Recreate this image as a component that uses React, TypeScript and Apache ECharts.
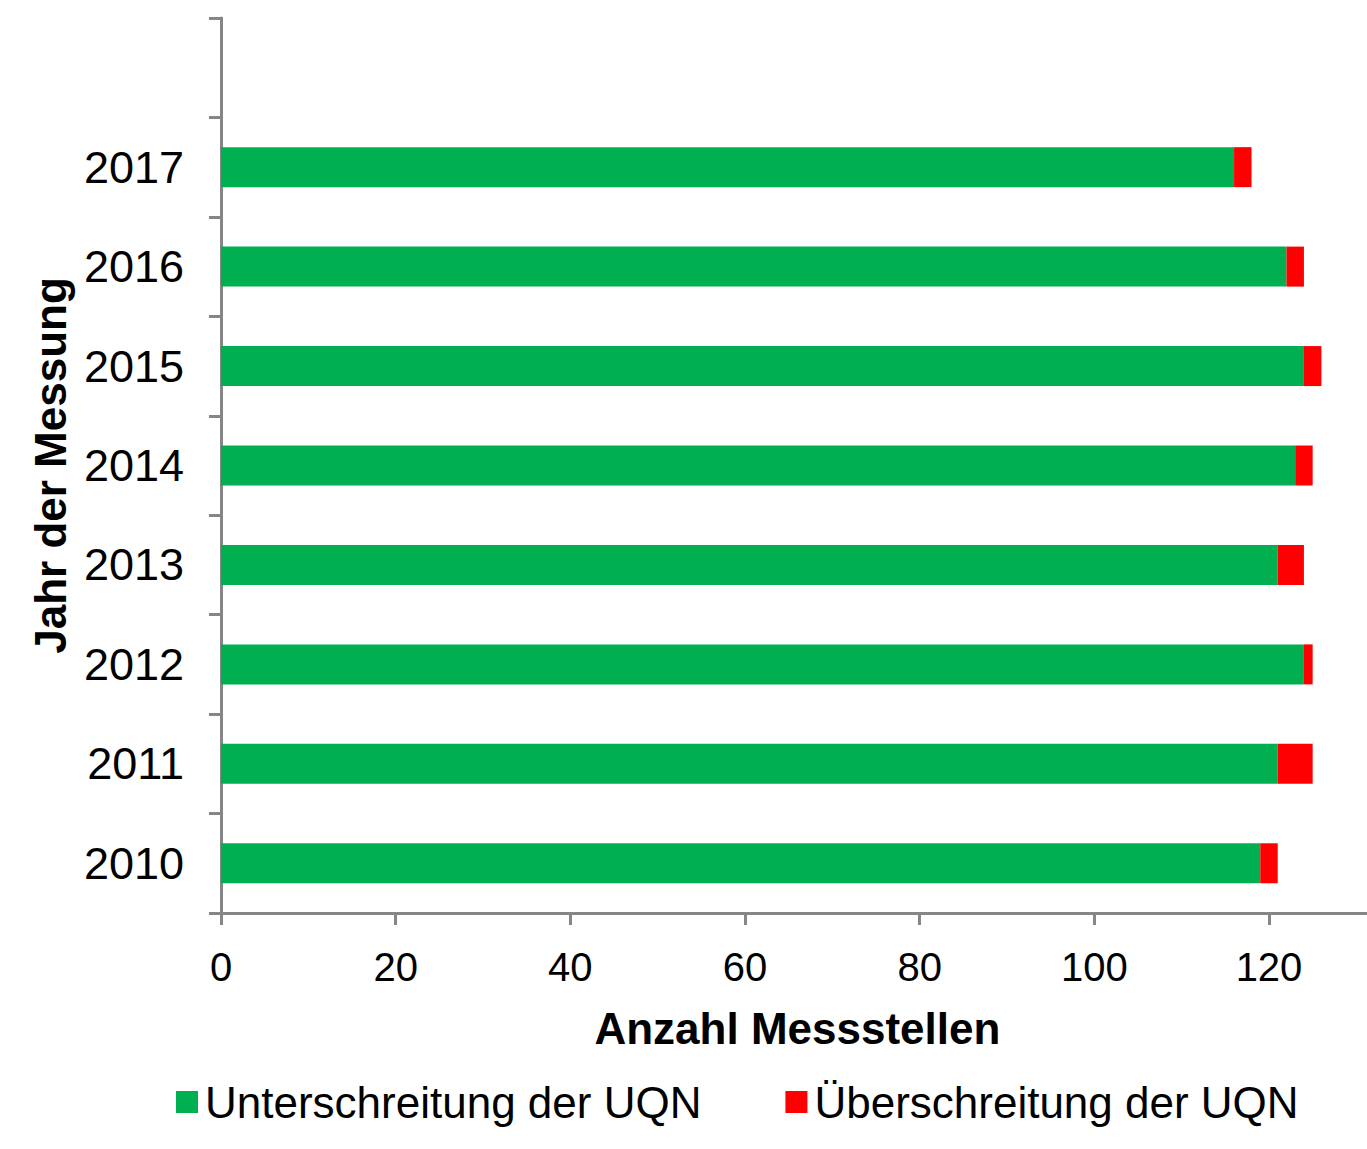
import React, { useEffect, useRef } from "react";
import * as echarts from "echarts";

const categories = ["2010", "2011", "2012", "2013", "2014", "2015", "2016", "2017", ""];
const unterschreitung = [119, 121, 124, 121, 123, 124, 122, 116, null];
const ueberschreitung = [2, 4, 1, 3, 2, 2, 2, 2, null];
const seriesNames = ["Unterschreitung der UQN", "Überschreitung der UQN"];

export default function App() {
  const ref = useRef<HTMLDivElement>(null);
  useEffect(() => {
    const chart = echarts.init(ref.current!, null, { renderer: "svg" });
    const font = "'Liberation Sans', Arial, sans-serif";
    chart.setOption({
      animation: false,
      textStyle: { fontFamily: font },
      grid: {
        left: 221,
        top: 18,
        height: 895,
        width: 1152.8,
        containLabel: false,
        outerBoundsMode: "none",
      },
      legend: {
        data: seriesNames,
        top: 1075,
        left: 171,
        itemWidth: 22,
        itemHeight: 22,
        itemGap: 84,
        icon: "rect",
        textStyle: { fontSize: 44, color: "#000", fontFamily: font, padding: [0, 0, 0, 2] },
      },
      xAxis: {
        type: "value",
        min: 0,
        max: 132,
        interval: 20,
        name: "Anzahl Messstellen",
        nameLocation: "middle",
        nameGap: 93,
        nameTextStyle: { fontSize: 44, fontWeight: "bold", color: "#000", fontFamily: font },
        axisLine: { show: true, lineStyle: { color: "#868686", width: 3 } },
        axisTick: { show: true, length: 12, lineStyle: { color: "#868686", width: 3 } },
        axisLabel: { fontSize: 40, color: "#000", margin: 34, fontFamily: font, showMaxLabel: false },
        splitLine: { show: false },
      },
      yAxis: {
        type: "category",
        data: categories,
        name: "Jahr der Messung",
        nameLocation: "middle",
        nameGap: 149,
        nameRotate: 90,
        nameTextStyle: { fontSize: 44, fontWeight: "bold", color: "#000", fontFamily: font },
        axisLine: { show: true, lineStyle: { color: "#868686", width: 3 } },
        axisTick: { show: true, length: 12, alignWithLabel: false, lineStyle: { color: "#868686", width: 3 } },
        axisLabel: { fontSize: 45, color: "#000", margin: 37, fontFamily: font },
      },
      series: [
        {
          name: seriesNames[0],
          type: "bar",
          stack: "total",
          data: unterschreitung,
          barWidth: 40,
          itemStyle: { color: "#00B050" },
        },
        {
          name: seriesNames[1],
          type: "bar",
          stack: "total",
          data: ueberschreitung,
          barWidth: 40,
          itemStyle: { color: "#FF0000" },
        },
      ],
    });
    return () => chart.dispose();
  }, []);
  return (
    <div
      ref={ref}
      style={{ position: "absolute", left: 0, top: 0, width: 1367, height: 1149, background: "#fff" }}
    />
  );
}
